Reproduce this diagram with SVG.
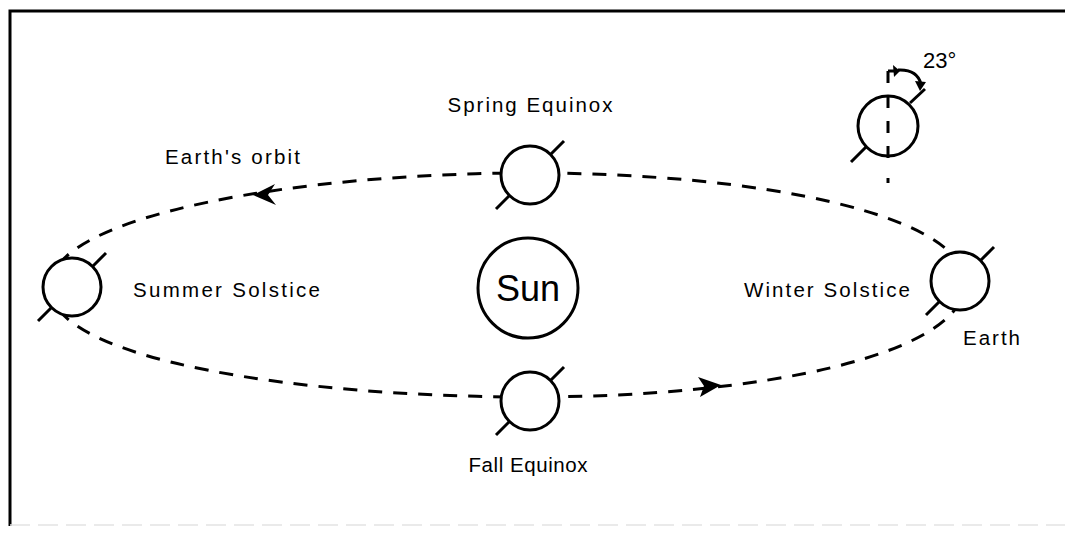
<svg xmlns="http://www.w3.org/2000/svg" width="1065" height="534" viewBox="0 0 1065 534">
<style>
.ln{stroke:#000;stroke-width:3;fill:none;stroke-linecap:butt}
.earth{stroke:#000;stroke-width:3;fill:#fff}
.orb{stroke:#000;stroke-width:3;fill:none;stroke-dasharray:14 11}
.t{font-family:"Liberation Sans",Arial,sans-serif;font-size:20.5px;fill:#000}
</style>
<defs>
<g id="earthSym">
<circle class="earth" cx="0" cy="0" r="29"/>
<line class="ln" x1="-20.5" y1="20.5" x2="-34" y2="34"/>
<line class="ln" x1="20.5" y1="-20.5" x2="34" y2="-34"/>
</g>
</defs>
<rect x="0" y="0" width="1065" height="534" fill="#fff"/>
<g id="frame">
<path class="ln" d="M10,526 V11 H1065"/>
<line x1="10" y1="525" x2="1065" y2="525" stroke="#e4e4e4" stroke-width="1.5" stroke-dasharray="20 8"/>
</g>
<g id="connectors">
<path class="orb" d="M50,287 C50,215 300,173 530,173 C760,173 965,215 965,283 C965,355 760,397 530,397 C300,397 50,360 50,287 Z"/>
<path d="M253,195 L275,184 L268,195 L276,205 Z" fill="#000"/>
<path d="M721,385 L698,377 L704,386 L700,397 Z" fill="#000"/>
</g>
<g id="sun">
<circle class="earth" cx="528" cy="288" r="50"/>
<text x="528" y="301" text-anchor="middle" style="font-family:'Liberation Sans',Arial,sans-serif;font-size:36px">Sun</text>
</g>
<g id="spring"><use href="#earthSym" x="530" y="175"/></g>
<g id="fall"><use href="#earthSym" x="530" y="401"/></g>
<g id="summer"><use href="#earthSym" x="72" y="287"/></g>
<g id="winter"><use href="#earthSym" x="960" y="281"/></g>
<g id="tilt">
<circle class="earth" cx="888" cy="126" r="30"/>
<line class="ln" x1="888" y1="71" x2="888" y2="165" stroke-dasharray="12 13"/>
<line class="ln" x1="888" y1="178" x2="888" y2="183"/>
<line class="ln" x1="910" y1="103" x2="925" y2="89"/>
<line class="ln" x1="851" y1="162" x2="866" y2="147"/>
<path class="ln" d="M888,71 H894 M898,70 Q917,69 921,84" stroke-width="2.5"/>
<path d="M893,65 L900,71 L894,77 Z" fill="#000"/>
<path d="M915,81 L926,82 L920,91 Z" fill="#000"/>
<text x="923" y="68" style="font-family:'Liberation Sans',Arial,sans-serif;font-size:22px">23°</text>
</g>
<g id="labels">
<text class="t" x="530" y="112" text-anchor="middle" textLength="165" lengthAdjust="spacing">Spring  Equinox</text>
<text class="t" x="165" y="164" textLength="135" lengthAdjust="spacing">Earth's  orbit</text>
<text class="t" x="133" y="297" textLength="187" lengthAdjust="spacing">Summer  Solstice</text>
<text class="t" x="744" y="297" textLength="166" lengthAdjust="spacing">Winter  Solstice</text>
<text class="t" x="963" y="345" textLength="57" lengthAdjust="spacing">Earth</text>
<text class="t" x="528" y="472" text-anchor="middle" textLength="119" lengthAdjust="spacing">Fall  Equinox</text>
</g>
</svg>
